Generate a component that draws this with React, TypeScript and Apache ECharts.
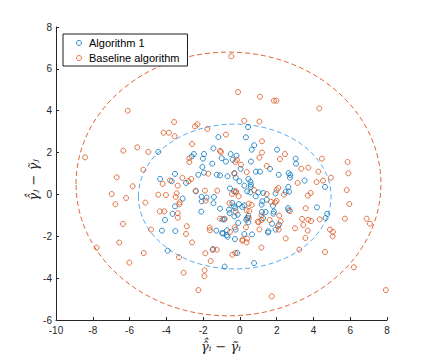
import React, { useEffect, useRef } from "react";
import * as echarts from "echarts";

const SERIES_NAMES = ["Algorithm 1", "Baseline algorithm"];
const X_TITLE = "γ\u0302\u0302ᵢ − γ\u0303ᵢ";
const Y_TITLE = "γ\u0302\u0302ⱼ − γ\u0303ⱼ";
const X_TICK_RANGE = [-10, 8];
const Y_TICK_RANGE = [-6, 8];
const TICK_STEP = 2;

// [x, y] points of Algorithm 1
const ALGORITHM1_POINTS: [number, number][] = [
  [0.44, 3.22], [-1.17, 2.74], [0.33, 2.73],
  [0.78, 2.35], [-1.44, 2.2], [0.64, 2.14], [2.02, 2.14], [-4.44, 2.03], [-2.5, 1.93], [-1.95, 1.93],
  [-0.5, 1.93], [-0.18, 1.85], [3.03, 1.71], [-2.62, 1.82], [-2.01, 1.71], [-0.99, 1.73], [-0.76, 1.57], [-0.39, 1.66],
  [0.6, 1.57], [-1.5, 1.47], [3.05, 1.47], [-2.04, 1.31], [0.04, 1.22], [1.64, 1.22], [1.09, 1.09], [0.87, 1.09],
  [-1.95, 1.04], [2.65, 1.02], [2.74, 0.93], [2.11, 0.94], [-1.26, 0.94], [-2.26, 0.94], [-0.3, 1.02], [-1.08, 0.91],
  [-0.67, 0.87], [-0.23, 0.8], [0.46, 0.74], [2.72, 0.8], [0.57, 0.61], [-4.34, 0.74], [-3.53, 0.98], [-2.93, 0.55],
  [-3.71, 0.63], [-0.03, 0.63], [0.24, 0.42], [0.6, 0.47], [4.63, 0.36], [3.52, 0.66],
  [0.59, 0.36], [2.63, 0.36], [-2.39, 0.15], [-0.54, 0.29], [-0.32, 0.15], [0.4, 0.15], [0.57, 0.1], [1.0, 0.1],
  [1.27, 0.07], [2.49, 0.12], [2.67, 0.13], [-1.41, -0.12], [-2.08, -0.12], [-1.81, -0.15], [1.94, 0.05], [0.86, -0.09],
  [-3.11, -0.2],
  [-2.08, -0.33], [-1.44, -0.42], [-0.41, -0.41], [-0.05, -0.46], [1.46, -0.25], [1.22, -0.33], [1.18, -0.49],
  [1.8, -0.55], [4.19, -0.62], [-0.32, -0.57], [0.24, -0.52], [-3.53, -0.57], [-1.08, -0.68], [-0.59, -0.73],
  [-0.25, -0.66], [0.13, -0.6], [2.62, -0.65], [2.65, -0.76], [1.2, -0.84], [1.4, -0.84], [1.85, -0.82], [1.82, -0.92],
  [-2.1, -0.82], [-3.66, -0.93], [-0.56, -0.89], [-0.12, -0.97], [-0.3, -1.05], [0.46, -1.03], [0.4, -1.13],
  [0.35, -1.21], [4.75, -0.93], [4.66, -1.13], [-0.94, -1.19], [-0.85, -1.19], [-4.07, -1.22],
  [1.26, -1.13], [-0.09, -1.36], [0.46, -1.33], [1.75, -1.4], [2.13, -1.44], [-4.24, -1.73], [-3.51, -1.75],
  [-1.28, -1.73], [-0.7, -1.71], [-0.23, -1.68], [-0.92, -1.87], [1.55, -1.76], [1.53, -1.82], [1.94, -1.68],
  [0.24, -1.89], [0.66, -1.91], [-0.96, -1.84], [-0.72, -1.95], [-0.67, -2.02], [-0.27, -2.13],
  [-1.46, -2.61], [-3.93, -2.69], [-0.14, -2.8], [0.77, -3.28], [-0.83, -3.45],
];

// [x, y] points of the baseline algorithm
const BASELINE_POINTS: [number, number][] = [
  [-0.47, 6.6], [-0.1, 4.89], [1.09, 4.67], [1.85, 4.48], [1.98, 4.48], [4.32, 4.11], [-6.1, 4.0], [0.24, 3.52],
  [1.06, 3.48], [-3.58, 3.46], [-2.44, 3.25], [-2.31, 3.35], [-1.77, 3.13], [-4.15, 2.95], [-3.86, 2.95],
  [-3.55, 2.78], [-0.76, 2.86], [1.2, 2.54], [-2.6, 2.41], [-5.58, 2.25], [-6.34, 2.09], [-4.98, 2.03], [-1.08, 2.08],
  [-1.03, 2.03], [2.45, 1.93], [1.2, 2.0], [4.46, 1.71], [2.18, 1.69], [1.06, 1.76], [-8.42, 1.77], [-2.75, 1.73],
  [-0.16, 1.65],
  [-2.75, 1.55], [5.86, 1.55], [-0.25, 1.55], [1.46, 1.36], [0.06, 1.42], [3.72, 1.28], [-5.25, 1.18], [5.9, 1.01],
  [3.34, 1.23], [-1.72, 0.99], [4.27, 1.09], [0.37, 1.07], [-0.3, 0.99], [-6.7, 0.82], [-3.13, 0.79], [-2.64, 0.74],
  [-2.79, 0.63], [4.95, 0.8], [-3.8, 0.67], [3.14, 0.55], [4.17, 0.59], [4.52, 0.66],
  [-4.2, 0.5], [-3.38, 0.42], [5.81, 0.21], [-5.83, 0.39], [2.09, 0.31], [2.0, 0.21], [0.77, 0.21], [-2.41, 0.18],
  [-1.9, 0.18], [-1.23, 0.18], [3.85, 0.07], [-6.97, 0.02], [-4.44, -0.01], [-4.02, -0.03], [-3.44, 0.05],
  [-0.23, 0.1], [-0.43, 0.02], [-0.21, 0.15], [-0.07, -0.09], [1.46, 0.02], [2.4, -0.01], [-6.19, -0.17],
  [-3.49, -0.12], [3.69, -0.06],
  [-6.77, -0.47], [-5.14, -0.39], [-3.28, -0.38], [-3.29, -0.47], [-0.57, -0.42], [-1.86, -0.3], [1.69, -0.35],
  [2.0, -0.31], [1.91, -0.38], [3.58, -0.66], [5.95, -0.46], [0.48, -0.44], [0.64, -0.5], [0.51, -0.79],
  [2.72, -0.79], [-4.36, -0.81], [-4.11, -0.81], [0.37, -0.76], [-3.38, -0.9], [-0.23, -0.82], [-3.38, -1.11],
  [1.17, -1.01], [5.71, -1.16], [6.89, -1.16], [4.34, -1.19], [3.38, -1.17], [3.72, -1.21], [-1.08, -1.16],
  [-0.83, -1.16], [0.48, -1.14], [2.14, -1.01], [1.62, -1.22], [0.97, -1.3], [1.02, -1.33], [-6.36, -1.41],
  [7.07, -1.4],
  [2.22, -1.28], [1.18, -1.22], [3.45, -1.46], [3.87, -1.27], [0.33, -1.57], [-0.28, -1.57], [-1.64, -1.59],
  [-1.63, -1.71], [-4.83, -1.68], [-2.89, -1.52], [-2.93, -1.89], [1.06, -1.67], [2.07, -1.52], [2.11, -1.68],
  [-0.54, -1.79], [3.0, -1.62], [3.69, -1.73], [4.9, -1.68], [5.06, -1.79], [5.04, -2.0], [3.56, -2.08],
  [2.49, -2.1], [0.13, -2.21], [0.37, -2.29], [0.39, -2.11], [0.15, -2.16],
  [-2.6, -2.29], [-6.56, -2.3], [-1.26, -2.64], [-1.48, -2.65], [1.17, -2.54], [3.23, -2.64], [4.63, -2.75],
  [-7.79, -2.54], [-5.23, -2.8], [-0.41, -2.88], [-0.25, -2.8], [-1.88, -2.81], [-3.31, -3.0], [-1.59, -3.18],
  [-6.01, -3.26], [-1.92, -3.63], [-3.06, -3.74], [-1.93, -3.91], [6.2, -3.48], [-2.26, -4.57], [1.73, -4.87],
  [7.94, -4.57],
];

// [centerX, centerY, semiAxisX, semiAxisY]
const ALGORITHM1_ELLIPSE = [-0.28, -0.1, 5.24, 3.46];
const BASELINE_ELLIPSE = [-0.62, 0.5, 8.29, 6.3];

const BLUE = "#0072BD";
const ORANGE = "#D95319";
const BLUE_ELLIPSE = "#59AAF2";
const ORANGE_ELLIPSE = "#E0683A";
const AXIS_COLOR = "#262626";

function ellipseSeries(params: number[], color: string) {
  return {
    type: "custom",
    silent: true,
    z: 1,
    data: [params],
    encode: { x: 0, y: 1 },
    renderItem: (_p: any, api: any) => {
      const c = api.coord([api.value(0), api.value(1)]);
      const s = api.size([api.value(2), api.value(3)]);
      return {
        type: "ellipse",
        shape: { cx: c[0], cy: c[1], rx: s[0], ry: s[1] },
        style: { fill: "none", stroke: color, lineWidth: 1, lineDash: [5, 3] },
      };
    },
  };
}

const titleFont = 'italic 13px "DejaVu Serif"';

export default function App() {
  const ref = useRef<HTMLDivElement>(null);
  useEffect(() => {
    if (!ref.current) return;
    const chart = echarts.init(ref.current, undefined, { renderer: "svg" });
    const axisCommon = {
      type: "value",
      interval: TICK_STEP,
      axisLine: { show: true, onZero: false, lineStyle: { color: AXIS_COLOR, width: 1 } },
      axisTick: { show: true, inside: true, length: 3, lineStyle: { color: AXIS_COLOR } },
      splitLine: { show: false },
    };
    chart.setOption({
      animation: false,
      backgroundColor: "#ffffff",
      grid: { left: 56, right: 42, top: 27, bottom: 40 },
      xAxis: {
        ...axisCommon,
        min: X_TICK_RANGE[0],
        max: X_TICK_RANGE[1],
        axisLabel: { color: AXIS_COLOR, fontSize: 10, fontFamily: "Liberation Sans", margin: 5 },
      },
      yAxis: {
        ...axisCommon,
        min: Y_TICK_RANGE[0],
        max: Y_TICK_RANGE[1],
        axisLabel: { color: AXIS_COLOR, fontSize: 10, fontFamily: "Liberation Sans", margin: 4 },
      },
      graphic: [
        {
          type: "text",
          x: 221,
          y: 346,
          style: { text: X_TITLE, font: titleFont, fill: AXIS_COLOR, align: "center", verticalAlign: "middle" },
        },
        {
          type: "text",
          x: 33,
          y: 180,
          rotation: Math.PI / 2,
          style: { text: Y_TITLE, font: titleFont, fill: AXIS_COLOR, align: "center", verticalAlign: "middle" },
        },
      ],
      legend: {
        left: 63,
        top: 34,
        orient: "vertical",
        backgroundColor: "#ffffff",
        borderColor: "#1a1a1a",
        borderWidth: 1,
        padding: [1.5, 8, 0.5, 13],
        itemGap: 0,
        itemWidth: 10,
        itemHeight: 5,
        textStyle: { fontFamily: "Liberation Sans", fontSize: 11, color: "#000", lineHeight: 15 },
        data: [
          { name: SERIES_NAMES[0], icon: "circle", itemStyle: { color: "transparent", borderColor: BLUE, borderWidth: 1 } },
          { name: SERIES_NAMES[1], icon: "circle", itemStyle: { color: "transparent", borderColor: ORANGE, borderWidth: 1 } },
        ],
      },
      series: [
        {
          type: "scatter",
          name: SERIES_NAMES[0],
          data: ALGORITHM1_POINTS,
          symbol: "circle",
          symbolSize: 5,
          z: 2,
          itemStyle: { color: "transparent", borderColor: BLUE, borderWidth: 1 },
        },
        {
          type: "scatter",
          name: SERIES_NAMES[1],
          data: BASELINE_POINTS,
          symbol: "circle",
          symbolSize: 5,
          z: 3,
          itemStyle: { color: "transparent", borderColor: ORANGE, borderWidth: 1 },
        },
        ellipseSeries(ALGORITHM1_ELLIPSE, BLUE_ELLIPSE),
        ellipseSeries(BASELINE_ELLIPSE, ORANGE_ELLIPSE),
      ],
    });
    return () => chart.dispose();
  }, []);
  return (
    <div
      ref={ref}
      style={{ position: "fixed", left: 0, top: 0, width: 429, height: 360, background: "#fff" }}
    />
  );
}
